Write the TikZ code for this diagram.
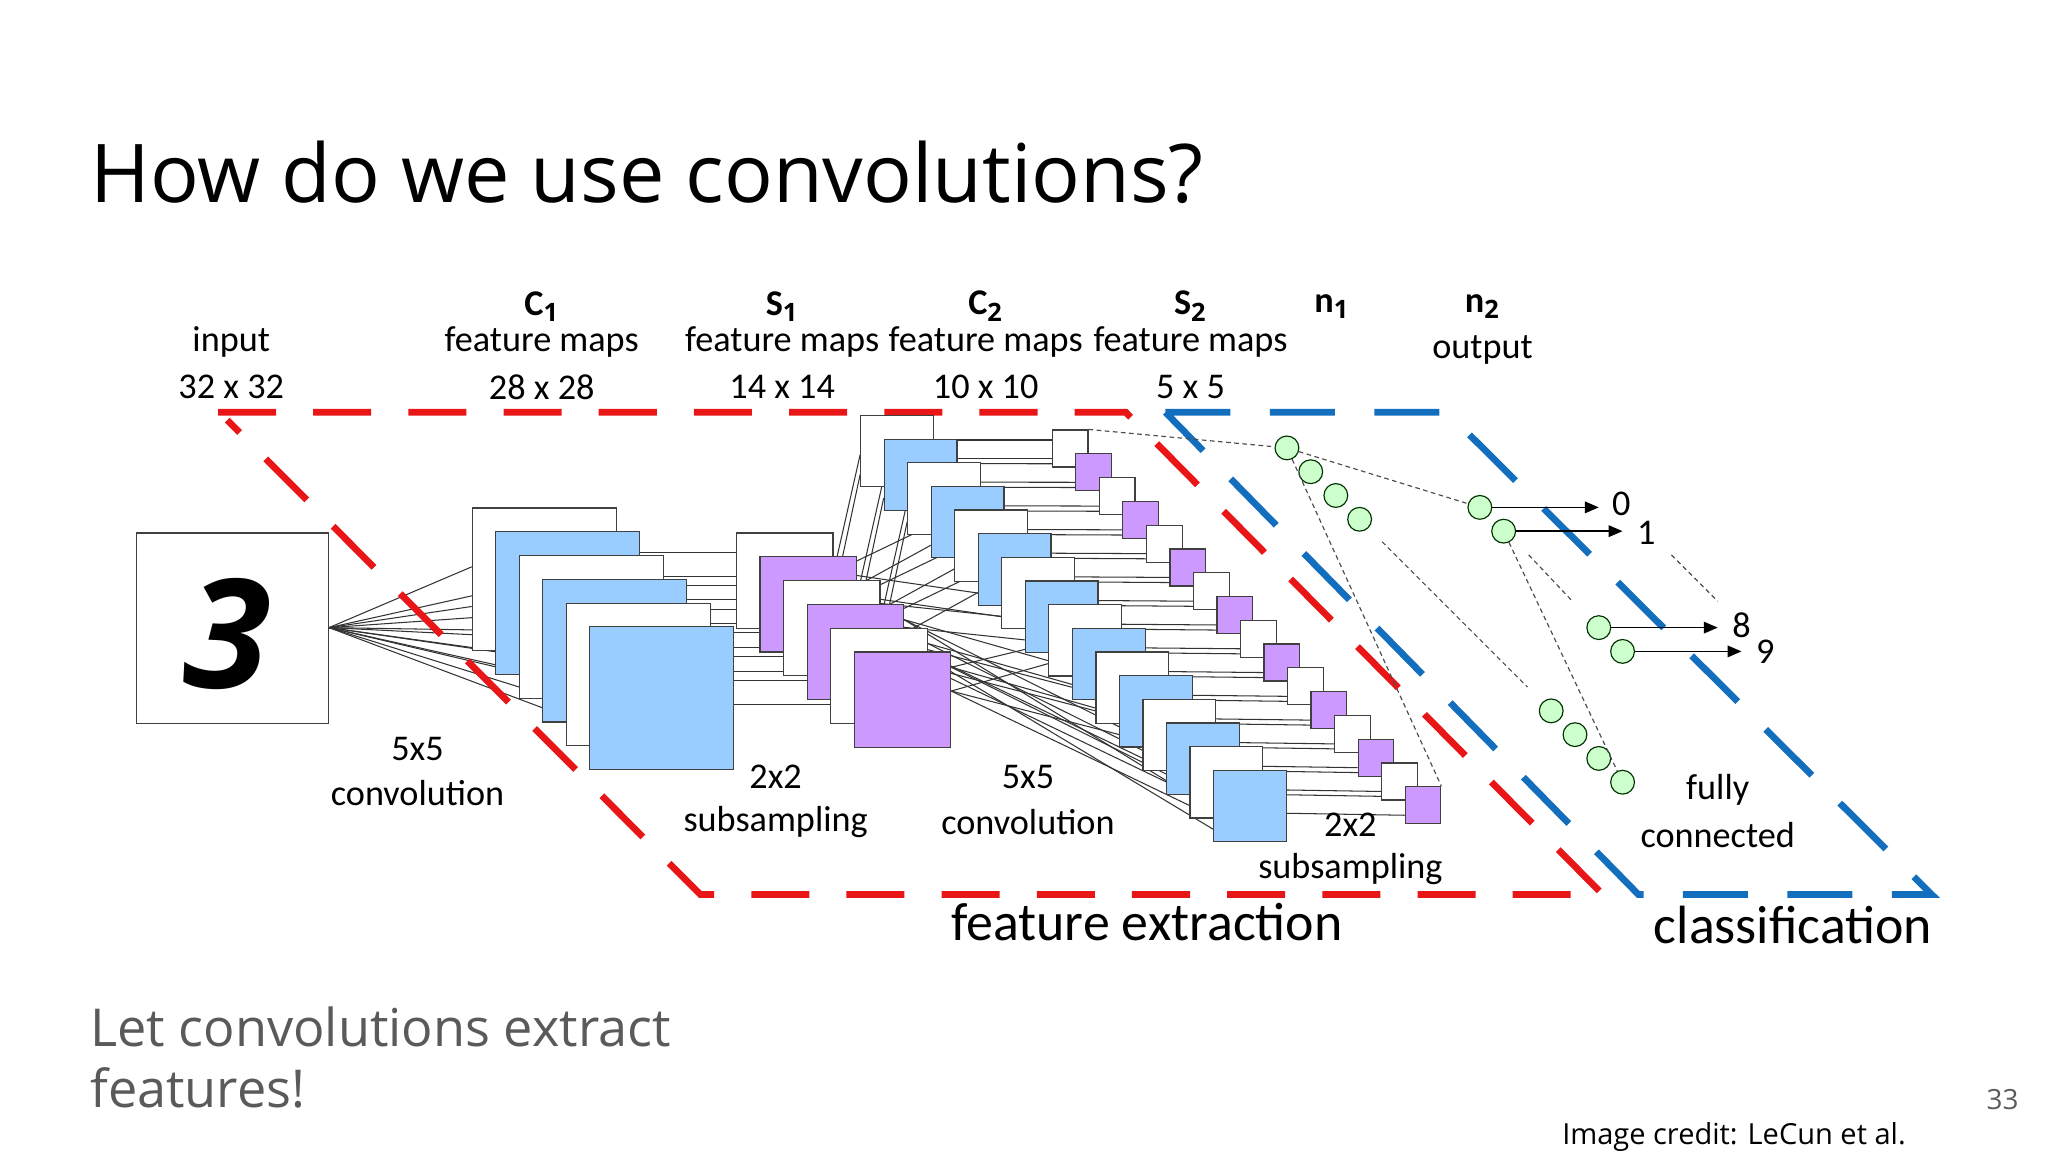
\documentclass[tikz,border=0pt]{standalone}
\usepackage{fontspec}
\setmainfont{Open Sans}
\newfontfamily\carlitofont{Carlito}
\usetikzlibrary{calc,backgrounds,arrows.meta}
\definecolor{mblue}{RGB}{153,204,255}
\definecolor{mpurp}{RGB}{204,153,255}
\definecolor{mgreen}{RGB}{204,255,204}
\definecolor{mred}{RGB}{232,22,22}
\definecolor{dblue}{RGB}{20,110,190}
\definecolor{tgray}{RGB}{90,90,90}
\begin{document}
\begin{tikzpicture}[x=0.02cm,y=-0.02cm,
  fm/.style={draw=black!75,line width=0.5pt,anchor=north west,inner sep=0pt},
  lab/.style={font=\carlitofont\fontsize{15.6}{18}\selectfont,inner sep=0pt},
  big/.style={font=\carlitofont\fontsize{23.2}{26}\selectfont,inner sep=0pt},
  wire/.style={black!80,line width=0.45pt},
  dots/.style={black!70,dash pattern=on 2pt off 1.5pt,line width=0.5pt},
  neur/.style={circle,draw=black!60!green!50!black,fill=mgreen,minimum size={18*0.02cm},inner sep=0pt,line width=0.5pt},
  reddash/.style={mred,line width=2.9pt,dash pattern=on 25pt off 16pt},
  bluedash/.style={dblue,line width=2.9pt,dash pattern=on 28pt off 17pt}]
\useasboundingbox (0,0) rectangle (1550,872);
% title and texts
\node[anchor=base west,inner sep=0pt,font=\fontsize{34.9}{40}\selectfont] (title) at (68,153) {How do we use convolutions?};
\node[anchor=base west,inner sep=0pt,font=\fontsize{22.5}{26}\selectfont,text=tgray] (sub) at (68,792) {Let convolutions extract};
\node[anchor=base west,inner sep=0pt,font=\fontsize{22.5}{26}\selectfont,text=tgray] (sub2) at (68,838) {features!};
\node[anchor=base east,inner sep=0pt,font=\fontsize{12}{14}\selectfont,text=tgray] (pg) at (1528,840) {33};
\node[anchor=base west,inner sep=0pt,font=\fontsize{12.5}{14}\selectfont] (cred) at (1182,866) {Image credit: LeCun et al.};
% dashed frames
\draw[reddash] (165,312) -- (852,312) -- (1213,677) -- (530,677) -- (172,318);
\draw[bluedash] (882,312) -- (1095,312) -- (1462,677) -- (1240,677) -- cycle;
% input
\node[fm,minimum width={145*0.02cm},minimum height={144*0.02cm}] (in) at (103,403) {};
\node[font=\bfseries\itshape\fontsize{66}{66}\selectfont,rotate=-3] (three) at (172,480) {3};
\coordinate (inpt) at (249,475);
% C1
\foreach \i in {0,...,5}{
  \pgfmathsetmacro\cc{mod(\i,2)==0?"white":"mblue"}
  \node[fm,fill=\cc,minimum width={109*0.02cm},minimum height={108*0.02cm}] (c1-\i) at ({357+17.8*\i},{384+18*\i}) {};}
% S1
\foreach \i in {0,...,5}{
  \pgfmathsetmacro\cc{mod(\i,2)==0?"white":"mpurp"}
  \node[fm,fill=\cc,minimum width={73*0.02cm},minimum height={72*0.02cm}] (s1-\i) at ({557+17.8*\i},{403+18*\i}) {};}
% C2
\foreach \i in {0,...,15}{
  \pgfmathsetmacro\cc{mod(\i,2)==0?"white":"mblue"}
  \node[fm,fill=\cc,minimum width={55*0.02cm},minimum height={54*0.02cm}] (c2-\i) at ({651+17.8*\i},{314+17.9*\i}) {};}
% S2
\foreach \i in {0,...,15}{
  \pgfmathsetmacro\cc{mod(\i,2)==0?"white":"mpurp"}
  \node[fm,fill=\cc,minimum width={27*0.02cm},minimum height={28*0.02cm}] (s2-\i) at ({796+17.8*\i},{325+18*\i}) {};}
% wires
\begin{scope}[on background layer]
\foreach \i in {0,...,5}{
  \draw[wire] (inpt) -- ($(c1-\i.north west)+(0,45)$);
  \draw[wire] (inpt) -- ($(c1-\i.north west)+(0,75)$);
  \draw[wire] ($(c1-\i.north east)+(0,34)$) -- ($(s1-\i.north west)+(0,15)$);
  \draw[wire] ($(c1-\i.north east)+(0,59)$) -- ($(s1-\i.north west)+(0,40)$);}
\foreach \j in {0,...,7}{
  \pgfmathtruncatemacro\k{mod(\j,3)}
  \draw[wire] ($(s1-\k.north east)+(0,30)$) -- ($(c2-\j.north west)+(0,30)$);
  \draw[wire] ($(s1-\k.north east)+(0,50)$) -- ($(c2-\j.north west)+(0,45)$);}
\foreach \j in {8,...,15}{
  \pgfmathtruncatemacro\k{3+mod(\j,3)}
  \draw[wire] ($(s1-\k.north east)+(0,12)$) -- ($(c2-\j.north west)+(0,30)$);
  \draw[wire] ($(s1-\k.north east)+(0,30)$) -- ($(c2-\j.north west)+(0,45)$);}
\foreach \j in {0,...,15}{
  \draw[wire] ($(c2-\j.north east)+(0,19)$) -- ($(s2-\j.north west)+(0,8)$);
  \draw[wire] ($(c2-\j.north east)+(0,33)$) -- ($(s2-\j.north west)+(0,22)$);}
\end{scope}
% neurons
\foreach \i/\x/\y in {0/974/339,1/992/357,2/1011/375,3/1029/393,4/1174/538,5/1192/556,6/1210/574,7/1228/592}
  \node[neur] (n1-\i) at (\x,\y) {};
\foreach \i/\x/\y in {0/1120/384,1/1138/402,2/1210/475,3/1228/493}
  \node[neur] (n2-\i) at (\x,\y) {};
\draw[dots] (s2-0.north east) -- (n1-0);
\draw[dots] (n1-0) -- (n2-0);
\draw[dots] (n1-0) -- (s2-15.north east);
\draw[dots] (n2-1) -- (n1-7);
\coordinate (e1a) at (1046,410); \coordinate (e1b) at (1156,520);
\draw[dots] (e1a) -- (e1b);
\coordinate (e2a) at (1157,420); \coordinate (e2b) at (1190,455);
\draw[dots] (e2a) -- (e2b);
\coordinate (e3a) at (1265,420); \coordinate (e3b) at (1300,455);
\draw[dots] (e3a) -- (e3b);
% outputs
\coordinate (a0) at (1210,384); \coordinate (a1) at (1228,402); \coordinate (a2) at (1300,475); \coordinate (a3) at (1318,493);
\foreach \i in {0,...,3}\draw[black,line width=0.7pt,-{Triangle[length=6pt,width=5pt]}] (n2-\i.east) -- (a\i);
\node[lab] (t0) at (1227,381) {0};
\node[lab] (t1) at (1246,403) {1};
\node[lab] (t8) at (1318,473) {8};
\node[lab] (t9) at (1336,493) {9};
% labels
\node[lab] (li1) at (175,259) {input};
\node[lab] (li2) at (175,293) {32 x 32};
\node[lab] (lc1) at (410,232) {\textbf{C}$_{\mathbf{1}}$};
\node[lab] (lc1a) at (410,259) {feature maps};
\node[lab] (lc1b) at (410,293) {28 x 28};
\node[lab] (ls1) at (592,232) {\textbf{S}$_{\mathbf{1}}$};
\node[lab] (ls1a) at (592,259) {feature maps};
\node[lab] (ls1b) at (592,293) {14 x 14};
\node[lab] (lc2) at (746,232) {\textbf{C}$_{\mathbf{2}}$};
\node[lab] (lc2a) at (746,259) {feature maps};
\node[lab] (lc2b) at (746,293) {10 x 10};
\node[lab] (ls2) at (901,232) {\textbf{S}$_{\mathbf{2}}$};
\node[lab] (ls2a) at (901,259) {feature maps};
\node[lab] (ls2b) at (901,293) {5 x 5};
\node[lab] (ln1) at (1008,232) {\textbf{n}$_{\mathbf{1}}$};
\node[lab] (ln2) at (1122,232) {\textbf{n}$_{\mathbf{2}}$};
\node[lab] (ln2a) at (1122,265) {output};
\node[lab] (k1) at (316,567) {5x5};
\node[lab] (k1b) at (316,600) {convolution};
\node[lab] (k2) at (587,588) {2x2};
\node[lab] (k2b) at (587,622) {subsampling};
\node[lab] (k3) at (778,588) {5x5};
\node[lab] (k3b) at (778,622) {convolution};
\node[lab] (k4) at (1022,624) {2x2};
\node[lab] (k4b) at (1022,658) {subsampling};
\node[lab] (k5) at (1300,598) {fully};
\node[lab] (k5b) at (1300,632) {connected};
\node[big] (fe) at (868,698) {feature extraction};
\node[big] (cl) at (1357,700) {classification};
\end{tikzpicture}
\end{document}
